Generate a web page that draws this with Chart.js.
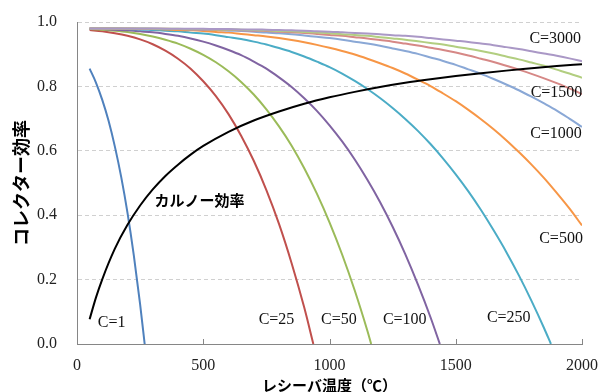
<!DOCTYPE html>
<html>
<head>
<meta charset="utf-8">
<script src="https://cdn.jsdelivr.net/npm/chart.js@4/dist/chart.umd.min.js"></script>
<style>
  html, body { margin: 0; padding: 0; background: #fff; }
  #wrap { width: 598px; height: 392px; }
</style>
</head>
<body>
<div id="wrap"><canvas id="chart" width="598" height="392"></canvas></div>
<script>
// receiver temperature (°C)
const temps = [50,100,150,200,250,300,350,400,450,500,550,600,650,700,750,800,850,900,950,1000,
    1050,1100,1150,1200,1250,1300,1350,1400,1450,1500,1550,1600,1650,1700,1750,1800,1850,1900,1950,2000];

const tempC1 = [50,75,100,125,150,175,200,225,250,268];
const effC1 = [0.855,0.812,0.758,0.693,0.613,0.519,0.407,0.275,0.123,0];

const tempC25 = [50,100,150,200,250,300,350,400,450,500,550,600,650,700,750,800,850,900,936];
const effC25 = [0.975,0.971,0.965,0.957,0.946,0.931,0.911,0.886,0.855,0.816,0.770,0.714,0.647,0.569,0.478,0.373,0.251,0.113,0];

const tempC50 = [50,100,150,200,250,300,350,400,450,500,550,600,650,700,750,800,850,900,950,1000,1050,1100,1150,1165];
const effC50 = [0.978,0.976,0.973,0.969,0.963,0.955,0.945,0.933,0.917,0.898,0.875,0.847,0.814,0.775,0.729,0.676,0.616,0.546,0.467,0.378,0.278,0.166,0.041,0];

const tempC100 = [50,100,150,200,250,300,350,400,450,500,550,600,650,700,750,800,850,900,950,1000,1050,1100,1150,1200,1250,1300,1350,1400,1437];
const effC100 = [0.979,0.978,0.976,0.974,0.971,0.968,0.963,0.957,0.949,0.939,0.927,0.913,0.897,0.877,0.855,0.828,0.798,0.763,0.724,0.679,0.629,0.573,0.510,0.441,0.364,0.279,0.185,0.083,0];

const tempC250 = [50,100,150,200,250,300,350,400,450,500,550,600,650,700,750,800,850,900,950,1000,
    1050,1100,1150,1200,1250,1300,1350,1400,1450,1500,1550,1600,1650,1700,1750,1800,1850,1877];
const effC250 = [0.980,0.979,0.979,0.978,0.977,0.975,0.973,0.971,0.967,0.964,0.959,0.953,0.947,0.939,0.930,0.919,0.907,0.893,0.877,0.860,
    0.840,0.817,0.792,0.764,0.733,0.699,0.662,0.621,0.576,0.527,0.474,0.416,0.353,0.286,0.213,0.134,0.049,0];

const effC500 = [0.980,0.980,0.979,0.979,0.978,0.978,0.977,0.975,0.974,0.972,0.969,0.967,0.963,0.959,0.955,0.950,0.944,0.937,0.929,0.920,
    0.910,0.899,0.886,0.872,0.857,0.840,0.821,0.801,0.778,0.754,0.727,0.698,0.667,0.633,0.596,0.557,0.515,0.469,0.421,0.368];
const effC1000 = [0.980,0.980,0.980,0.979,0.979,0.979,0.978,0.978,0.977,0.976,0.975,0.973,0.972,0.970,0.967,0.965,0.962,0.958,0.954,0.950,
    0.945,0.939,0.933,0.926,0.918,0.910,0.901,0.890,0.879,0.867,0.853,0.839,0.823,0.806,0.788,0.768,0.747,0.725,0.700,0.674];
const effC1500 = [0.980,0.980,0.980,0.980,0.979,0.979,0.979,0.978,0.978,0.977,0.976,0.976,0.974,0.973,0.972,0.970,0.968,0.966,0.963,0.960,
    0.957,0.953,0.949,0.944,0.939,0.933,0.927,0.920,0.913,0.905,0.896,0.886,0.876,0.864,0.852,0.839,0.825,0.810,0.794,0.776];
const effC2000 = [0.980,0.980,0.980,0.980,0.980,0.979,0.979,0.979,0.978,0.978,0.977,0.977,0.976,0.975,0.974,0.972,0.971,0.969,0.967,0.965,
    0.962,0.960,0.957,0.953,0.949,0.945,0.940,0.935,0.930,0.923,0.917,0.910,0.902,0.893,0.884,0.874,0.864,0.852,0.840,0.827];
const effC3000 = [0.980,0.980,0.980,0.980,0.980,0.980,0.979,0.979,0.979,0.979,0.978,0.978,0.977,0.977,0.976,0.975,0.974,0.973,0.971,0.970,
    0.968,0.966,0.964,0.962,0.959,0.957,0.954,0.950,0.946,0.942,0.938,0.933,0.928,0.922,0.916,0.909,0.902,0.895,0.887,0.878];

const tempCarnot = [50,75,100,150,200,250,300,350,400,450,500,600,700,800,900,1000,1100,1200,1300,1400,1500,1600,1700,1800,1900,2000];
const effCarnot = [0.077,0.144,0.201,0.296,0.370,0.430,0.480,0.522,0.557,0.588,0.615,0.659,0.694,0.722,0.746,0.766,0.783,0.798,0.811,0.822,0.832,0.841,0.849,0.856,0.863,0.869];

const yTicks = [0, 0.2, 0.4, 0.6, 0.8, 1.0];
const xTicks = [0, 500, 1000, 1500, 2000];

const seriesNames = ['C=1','C=25','C=50','C=100','C=250','C=500','C=1000','C=1500','C=2000','C=3000'];
const seriesTemps = [tempC1, tempC25, tempC50, tempC100, tempC250, temps, temps, temps, temps, temps];
const seriesEffs = [effC1, effC25, effC50, effC100, effC250, effC500, effC1000, effC1500, effC2000, effC3000];
const seriesColors = ['#4F81BD','#C0504D','#9BBB59','#8064A2','#4BACC6','#F79646','#8AA8D6','#D68886','#B2CE80','#AA98C6'];

// curve labels: [text, temperature, efficiency] where the label is centred
const curveLabels = [
    ['C=1', 137, 0.066],
    ['C=25', 790, 0.075],
    ['C=50', 1037, 0.075],
    ['C=100', 1298, 0.075],
    ['C=250', 1710, 0.081],
    ['C=500', 1917, 0.326],
    ['C=1000', 1897, 0.652],
    ['C=1500', 1899, 0.780],
    ['C=3000', 1894, 0.949]
];
const carnotLabel = ['カルノー効率', 485, 0.447];

const toPoints = (xs, ys) => xs.map((x, i) => ({ x: x, y: ys[i] }));

const datasets = seriesNames.map((name, i) => ({
    label: name,
    data: toPoints(seriesTemps[i], seriesEffs[i]),
    borderColor: seriesColors[i],
    borderWidth: 2,
    pointRadius: 0,
    cubicInterpolationMode: 'monotone',
    order: 20 - i
}));
datasets.push({
    label: 'カルノー効率',
    data: toPoints(tempCarnot, effCarnot),
    borderColor: '#000000',
    borderWidth: 2,
    pointRadius: 0,
    cubicInterpolationMode: 'monotone',
    order: 0
});

const serifFont = '"Liberation Serif", "Times New Roman", serif';
const jpFont = '"Noto Sans CJK JP", "Noto Sans", sans-serif';

const labelPlugin = {
    id: 'curveLabels',
    afterDraw(chart) {
        const ctx = chart.ctx;
        const xs = chart.scales.x;
        const ys = chart.scales.y;
        ctx.save();
        // small inward tick marks on the x axis
        ctx.strokeStyle = '#868686';
        ctx.lineWidth = 1;
        xTicks.forEach(v => {
            const px = Math.round(xs.getPixelForValue(v)) + 0.5;
            ctx.beginPath();
            ctx.moveTo(px, ys.bottom);
            ctx.lineTo(px, ys.bottom - 5);
            ctx.stroke();
        });
        ctx.fillStyle = '#111';
        ctx.textAlign = 'center';
        ctx.textBaseline = 'middle';
        ctx.font = '16px ' + serifFont;
        curveLabels.forEach(([t, x, y]) => {
            ctx.fillText(t, xs.getPixelForValue(x), ys.getPixelForValue(y));
        });
        ctx.fillStyle = '#000';
        ctx.font = 'bold 15px ' + jpFont;
        ctx.fillText(carnotLabel[0], xs.getPixelForValue(carnotLabel[1]), ys.getPixelForValue(carnotLabel[2]));
        ctx.restore();
    }
};

new Chart(document.getElementById('chart').getContext('2d'), {
    type: 'line',
    data: { datasets: datasets },
    options: {
        responsive: false,
        animation: false,
        layout: { padding: { top: 22, right: 16, left: 0, bottom: 0 } },
        plugins: {
            legend: { display: false },
            tooltip: { enabled: false }
        },
        scales: {
            x: {
                type: 'linear',
                min: 0,
                max: 2000,
                afterFit: (scale) => { scale.height = 48; },
                afterBuildTicks: (scale) => { scale.ticks = xTicks.map(v => ({ value: v })); },
                grid: { display: true, drawOnChartArea: false, drawTicks: true, tickLength: 12, tickColor: 'rgba(0,0,0,0)' },
                border: { display: true, color: '#868686', width: 1 },
                ticks: {
                    color: '#222',
                    padding: 0,
                    font: { family: serifFont, size: 16 },
                    callback: (v) => String(v)
                },
                title: {
                    display: true,
                    text: 'レシーバ温度（℃）',
                    color: '#000',
                    font: { family: jpFont, size: 15, weight: 'bold' },
                    padding: { top: 0, bottom: -2 }
                }
            },
            y: {
                min: 0,
                max: 1,
                afterFit: (scale) => { scale.width = 77; },
                afterBuildTicks: (scale) => { scale.ticks = yTicks.map(v => ({ value: v })); },
                grid: { color: '#D0D0D0', drawTicks: true, tickLength: 20, tickColor: 'rgba(0,0,0,0)', lineWidth: 1 },
                border: { display: true, color: '#868686', width: 1, dash: [4, 3] },
                ticks: {
                    color: '#222',
                    padding: 0,
                    font: { family: serifFont, size: 16 },
                    callback: (v) => v.toFixed(1)
                },
                title: {
                    display: true,
                    text: 'コレクター効率',
                    color: '#000',
                    font: { family: jpFont, size: 18, weight: 'bold' },
                    padding: { top: 10, bottom: 0 }
                }
            }
        }
    },
    plugins: [labelPlugin]
});
</script>
</body>
</html>
